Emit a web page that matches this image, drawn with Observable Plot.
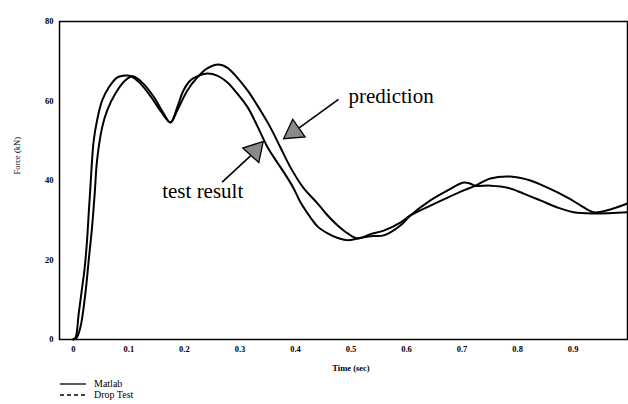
<!DOCTYPE html>
<html>
<head>
<meta charset="utf-8">
<script src="https://cdn.jsdelivr.net/npm/d3@7"></script>
<script src="https://cdn.jsdelivr.net/npm/@observablehq/plot@0.6"></script>
<style>
  html, body { margin: 0; padding: 0; background: #fff; }
  #legend { position: relative; width: 628px; height: 26px; font-family: 'Liberation Serif', 'Times New Roman', serif; font-size: 10px; color: #000; }
  #legend .item { position: absolute; left: 60px; display: flex; align-items: center; }
  #legend .item span { margin-left: 8px; }
</style>
</head>
<body>
<div id="chart"></div>
<div id="legend"></div>
<script>
// Tick values
const xTicks = [0, 0.1, 0.2, 0.3, 0.4, 0.5, 0.6, 0.7, 0.8, 0.9];
const yTicks = [0, 20, 40, 60, 80];

// Test result (leading curve)
const testTime = [0, 0.004, 0.0096, 0.0144, 0.0204, 0.0246, 0.0276, 0.0306, 0.0336, 0.0366, 0.0426, 0.0517, 0.0637, 0.0787, 0.0937, 0.103, 0.12, 0.14, 0.158, 0.175, 0.187, 0.198, 0.211, 0.223, 0.241, 0.259, 0.277, 0.295, 0.314, 0.332, 0.35, 0.366, 0.378, 0.396, 0.409, 0.427, 0.44, 0.458, 0.475, 0.494, 0.512, 0.535, 0.559, 0.589, 0.607, 0.643, 0.674, 0.703, 0.715, 0.724, 0.751, 0.782, 0.811, 0.841, 0.872, 0.901, 0.937, 0.998];
const testForce = [0, 0.5, 6.5, 11.6, 18.1, 24.9, 31.7, 38.2, 45, 50, 55.1, 60.1, 63.4, 65.9, 66.4, 66.3, 64.5, 61, 57.3, 54.6, 58.4, 62.6, 65.2, 66.2, 66.9, 66.4, 64.7, 61.9, 58.4, 53.5, 48.3, 44.8, 42.3, 38.2, 34.5, 30.7, 28.4, 26.7, 25.6, 25, 25.4, 26, 26.2, 28.7, 31.2, 35, 37.5, 39.5, 39.2, 38.7, 38.7, 38.2, 36.7, 35, 33.2, 32, 31.7, 32];

// Prediction (lagging curve)
const predTime = [0, 0.006, 0.0126, 0.0216, 0.0276, 0.0336, 0.0384, 0.0426, 0.0517, 0.0607, 0.0757, 0.0937, 0.107, 0.125, 0.145, 0.16, 0.175, 0.187, 0.205, 0.223, 0.241, 0.261, 0.277, 0.295, 0.314, 0.337, 0.355, 0.373, 0.391, 0.414, 0.44, 0.458, 0.476, 0.494, 0.512, 0.535, 0.559, 0.589, 0.607, 0.643, 0.674, 0.703, 0.724, 0.751, 0.787, 0.823, 0.854, 0.89, 0.914, 0.937, 0.962, 0.998];
const predForce = [0, 0.5, 3, 11.6, 19.9, 28.2, 36.7, 45, 53.3, 57.6, 61.9, 65.2, 66.2, 64.5, 61, 57.5, 54.6, 57.6, 62.6, 65.9, 68.2, 69.2, 68.4, 65.9, 62.6, 57.6, 53.3, 48.3, 43.3, 38.2, 34.2, 31.2, 28.7, 26.7, 25.4, 26.5, 27.4, 29.4, 31.2, 33.7, 35.7, 37.5, 38.7, 40.5, 41, 40, 38.2, 35.7, 33.7, 32, 32.5, 34.2];

// Annotations
const annoLabels = ["prediction", "test result"];
const annoTextX = [0.4955, 0.16];
const annoTextY = [61.3, 37.3];
const arrowFromX = [0.4775, 0.268];
const arrowFromY = [60.4, 39.6];
const arrowToX = [0.406, 0.32];
const arrowToY = [53.2, 46.3];
const headX = [0.397, 0.327];
const headY = [52.3, 47.5];
const headAngle = [235, 42];

const legendLabels = ["Matlab", "Drop Test"];

const testData = testTime.map((t, i) => ({t, f: testForce[i]}));
const predData = predTime.map((t, i) => ({t, f: predForce[i]}));
const anno = annoLabels.map((label, i) => ({
  label, tx: annoTextX[i], ty: annoTextY[i],
  x1: arrowFromX[i], y1: arrowFromY[i], x2: arrowToX[i], y2: arrowToY[i],
  hx: headX[i], hy: headY[i], rot: headAngle[i]
}));

const serif = "'Liberation Serif', 'Times New Roman', serif";

const chart = Plot.plot({
  width: 628,
  height: 378,
  marginLeft: 59,
  marginRight: 1,
  marginTop: 21,
  marginBottom: 39,
  x: {domain: [-0.025, 0.998]},
  y: {domain: [0, 80]},
  style: {fontFamily: serif, background: "white", color: "black"},
  marks: [
    Plot.axisX({ticks: xTicks, tickSize: 0, tickPadding: 6, fontSize: 8.5, fontWeight: "bold",
      tickFormat: d => d === 0 ? "0" : d3.format(".1f")(d), label: null}),
    Plot.axisY({ticks: yTicks, tickSize: 0, tickPadding: 6, fontSize: 8.5, fontWeight: "bold", label: null}),
    Plot.text(["Time (sec)"], {x: 0.5, frameAnchor: "bottom", dy: 31, fontSize: 8.5, fontWeight: "bold", text: d => d}),
    Plot.text(["Force (kN)"], {frameAnchor: "left", dx: -42, dy: -6, rotate: -90, fontSize: 8.5, text: d => d}),
    Plot.line(testData, {x: "t", y: "f", curve: "catmull-rom", stroke: "black", strokeWidth: 2}),
    Plot.line(predData, {x: "t", y: "f", curve: "catmull-rom", stroke: "black", strokeWidth: 2}),
    Plot.frame({stroke: "black", strokeWidth: 1.5}),
    Plot.link(anno, {x1: "x1", y1: "y1", x2: "x2", y2: "y2", stroke: "black", strokeWidth: 1.6}),
    Plot.dot(anno, {x: "hx", y: "hy", symbol: "triangle", r: 8, rotate: "rot", fill: "#8a8a8a", stroke: "black", strokeWidth: 1.3}),
    Plot.text(anno, {x: "tx", y: "ty", text: "label", textAnchor: "start", fontSize: 21, fill: "black"})
  ]
});
document.getElementById("chart").appendChild(chart);

// Legend below the chart
const legend = document.getElementById("legend");
legendLabels.forEach((label, i) => {
  const item = document.createElement("div");
  item.className = "item";
  item.style.top = (i * 11) + "px";
  item.innerHTML = `<svg width="26" height="10"><line x1="0" y1="5" x2="26" y2="5" stroke="black" stroke-width="1.3" ${i === 1 ? 'stroke-dasharray="4,3"' : ''}/></svg><span>${label}</span>`;
  legend.appendChild(item);
});
</script>
</body>
</html>
